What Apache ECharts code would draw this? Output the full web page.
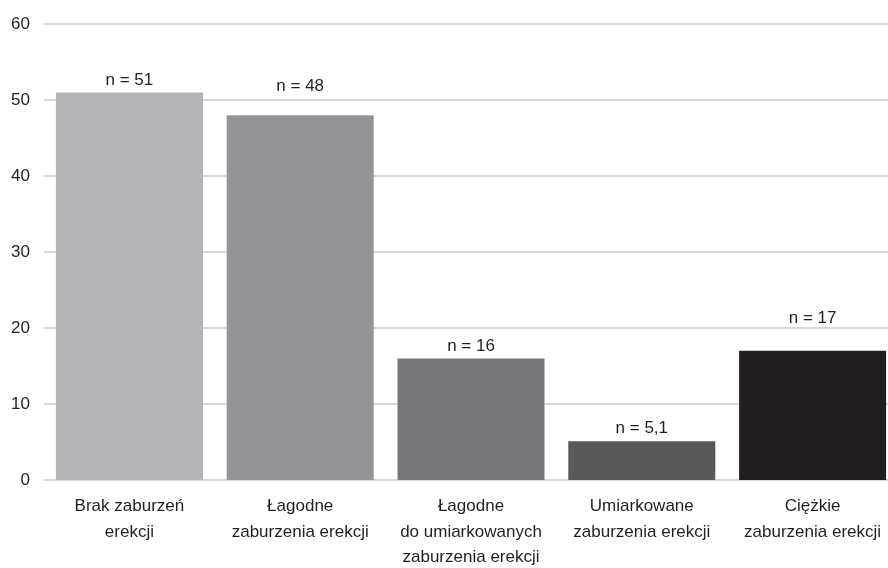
<!DOCTYPE html>
<html>
<head>
<meta charset="utf-8">
<script src="https://cdn.jsdelivr.net/npm/echarts@6/dist/echarts.min.js"></script>
<style>html,body{margin:0;padding:0;background:#fff;overflow:hidden;}#c{width:888px;height:568px;}</style>
</head>
<body>
<div id="c"></div>
<script>
const categories = ["Brak zaburzeń\nerekcji", "Łagodne\nzaburzenia erekcji", "Łagodne\ndo umiarkowanych\nzaburzenia erekcji", "Umiarkowane\nzaburzenia erekcji", "Ciężkie\nzaburzenia erekcji"];
const values = [51, 48, 16, 5.1, 17];
const yTicks = [0, 10, 20, 30, 40, 50, 60];

const barColors = ["#b2b3b6", "#939497", "#76777a", "#58595b", "#231f20"];
const labelGaps = [4, 20, 4, 4, 24];

const FONT = "'Liberation Sans', Arial, sans-serif";
const chart = echarts.init(document.getElementById('c'));
chart.setOption({
  animation: false,
  grid: { left: 44, width: 854, top: 24, height: 456, containLabel: false, outerBoundsMode: 'none' },
  xAxis: {
    type: 'category',
    data: categories,
    axisLine: { show: true, lineStyle: { color: '#d9d9d9', width: 2 } },
    axisTick: { show: false },
    axisLabel: { interval: 0, color: '#231f20', fontSize: 17, fontFamily: FONT, lineHeight: 25.5, margin: 14 }
  },
  yAxis: {
    type: 'value',
    min: yTicks[0], max: yTicks[yTicks.length - 1], interval: 10,
    axisLine: { show: false },
    axisTick: { show: false },
    axisLabel: { color: '#231f20', fontSize: 17, fontFamily: FONT, margin: 14 },
    splitLine: { lineStyle: { color: '#d9d9d9', width: 2 } }
  },
  series: [{
    type: 'bar',
    barWidth: 147,
    data: values.map((v, i) => ({ value: v, itemStyle: { color: barColors[i] }, label: { distance: labelGaps[i] } })),
    label: {
      show: true, position: 'top',
      color: '#231f20', fontSize: 17, fontFamily: FONT,
      formatter: p => 'n = ' + String(p.value).replace('.', ',')
    }
  }]
});
</script>
</body>
</html>
